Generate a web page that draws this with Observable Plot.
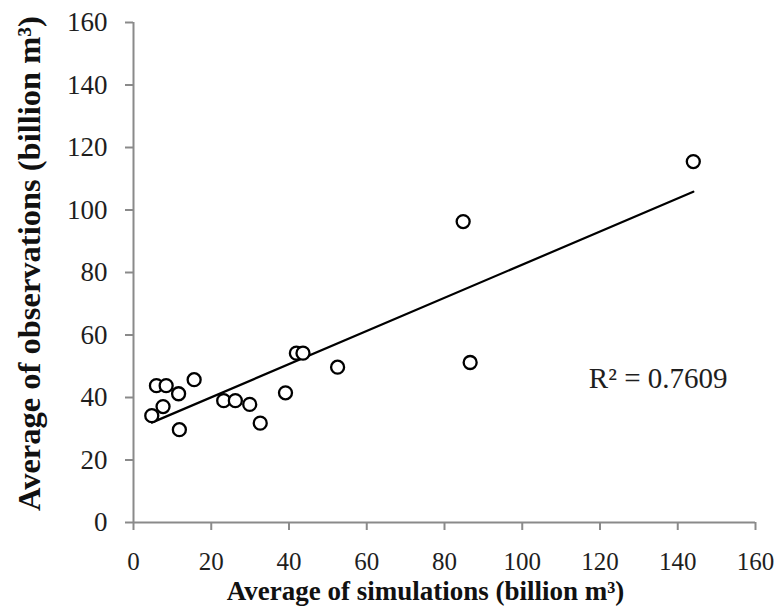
<!DOCTYPE html>
<html>
<head>
<meta charset="utf-8">
<script src="https://cdn.jsdelivr.net/npm/d3@7"></script>
<script src="https://cdn.jsdelivr.net/npm/@observablehq/plot@0.6"></script>
<style>
  html, body { margin: 0; padding: 0; background: #fff; }
  #chart svg { display: block; }
</style>
</head>
<body>
<div id="chart"></div>
<script>
// Average of simulations (billion m³)
const simulations = [144.0, 84.8, 86.6, 5.9, 8.4, 11.6, 15.6, 7.6, 4.7, 11.8, 23.2, 26.2, 29.9, 32.6, 39.1, 41.9, 43.6, 52.5];
// Average of observations (billion m³)
const observations = [115.5, 96.3, 51.2, 43.8, 43.8, 41.2, 45.7, 37.1, 34.2, 29.7, 39.0, 39.0, 37.8, 31.8, 41.5, 54.2, 54.2, 49.7];
const xTicks = [0, 20, 40, 60, 80, 100, 120, 140, 160];
const yTicks = [0, 20, 40, 60, 80, 100, 120, 140, 160];
const xTitle = "Average of simulations (billion m³)";
const yTitle = "Average of observations (billion m³)";
const r2Text = "R² = 0.7609";

const points = simulations.map((s, i) => ({sim: s, obs: observations[i]}));
const serif = "Liberation Serif, Times New Roman, serif";

const chart = Plot.plot({
  width: 780,
  height: 609,
  marginLeft: 133,
  marginRight: 25,
  marginTop: 22,
  marginBottom: 87,
  style: {fontFamily: serif, background: "#fff"},
  x: {domain: [0, 160]},
  y: {domain: [0, 160]},
  marks: [
    Plot.ruleY([0], {stroke: "#8a8a8a", strokeWidth: 2}),
    Plot.ruleX([0], {stroke: "#8a8a8a", strokeWidth: 2}),
    Plot.axisX({ticks: xTicks, tickSize: 8, tickPadding: 22, stroke: "#8a8a8a", strokeWidth: 2,
      fill: "#1e1e1e", fontSize: 25, fontFamily: serif, label: null, tickFormat: d => String(d)}),
    Plot.axisY({ticks: yTicks, tickSize: 8, tickPadding: 18, stroke: "#8a8a8a", strokeWidth: 2,
      fill: "#1e1e1e", fontSize: 27, fontFamily: serif, label: null, tickFormat: d => String(d)}),
    Plot.linearRegressionY(points, {x: "sim", y: "obs", ci: 0, stroke: "#000", strokeWidth: 2.2}),
    Plot.dot(points, {x: "sim", y: "obs", r: 6.5, stroke: "#000", strokeWidth: 2.3, fill: "#fff"}),
    Plot.text([xTitle], {frameAnchor: "bottom", dx: -19, dy: 77, fontSize: 27, fontWeight: "bold",
      fontFamily: serif, fill: "#111"}),
    Plot.text([yTitle], {frameAnchor: "left", textAnchor: "middle", rotate: -90, dx: -104, dy: -9,
      fontSize: 32.5, fontWeight: "bold", fontFamily: serif, fill: "#111"}),
    Plot.text([r2Text], {frameAnchor: "right", textAnchor: "end", dx: -28, dy: 106, fontSize: 29,
      fontFamily: serif, fill: "#1e1e1e"})
  ]
});
document.getElementById("chart").append(chart);
</script>
</body>
</html>
